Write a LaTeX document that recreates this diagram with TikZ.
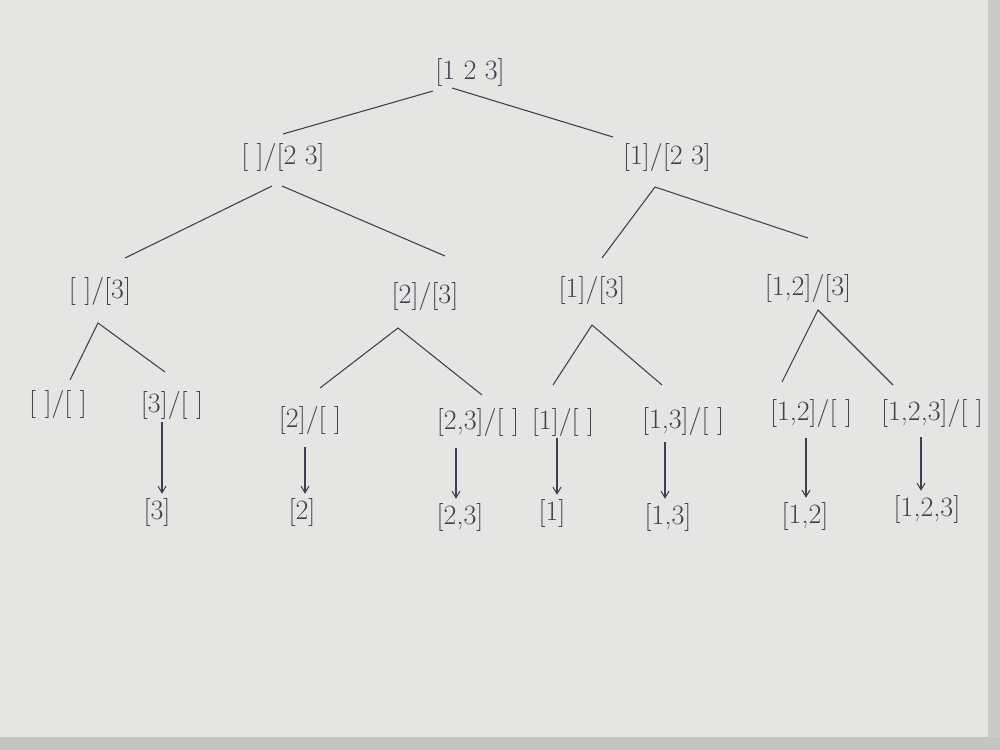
\documentclass[tikz,border=0pt]{standalone}
\usetikzlibrary{arrows.meta}
\definecolor{paper}{RGB}{229,229,227}
\definecolor{ink}{RGB}{62,64,80}
\definecolor{edge}{RGB}{196,196,194}
\begin{document}
\begin{tikzpicture}[x=0.75pt,y=-0.75pt,
  lbl/.style={text=ink,font=\fontsize{21}{24}\selectfont,inner sep=1pt},
  branch/.style={draw=ink,line width=0.8pt},
  down/.style={draw=ink,line width=0.8pt,shorten >=2pt,-{Straight Barb[length=5pt,width=6pt]}}]
\useasboundingbox (0,0) rectangle (1000,750);
\fill[paper] (0,0) rectangle (1000,750);
\fill[edge] (0,737) rectangle (1000,750);
\fill[edge!90] (988,0) rectangle (1000,737);
% level 0
\node[lbl] (r) at (470,72) {[1 2 3]};
% level 1
\node[lbl] (a) at (283,157) {[ ]/[2 3]};
\node[lbl] (b) at (667,157) {[1]/[2 3]};
% level 2
\node[lbl] (aa) at (100,291) {[ ]/[3]};
\node[lbl] (ab) at (425,296) {[2]/[3]};
\node[lbl] (ba) at (592,290) {[1]/[3]};
\node[lbl] (bb) at (808,288) {[1,2]/[3]};
% level 3
\node[lbl] (aaa) at (58,404) {[ ]/[ ]};
\node[lbl] (aab) at (172,405) {[3]/[ ]};
\node[lbl] (aba) at (310,420) {[2]/[ ]};
\node[lbl] (abb) at (478,422) {[2,3]/[ ]};
\node[lbl] (baa) at (563,422) {[1]/[ ]};
\node[lbl] (bab) at (683,421) {[1,3]/[ ]};
\node[lbl] (bba) at (811,413) {[1,2]/[ ]};
\node[lbl] (bbb) at (932,413) {[1,2,3]/[ ]};
% leaves
\node[lbl] (l1) at (157,512) {[3]};
\node[lbl] (l2) at (302,512) {[2]};
\node[lbl] (l3) at (460,517) {[2,3]};
\node[lbl] (l4) at (552,513) {[1]};
\node[lbl] (l5) at (668,517) {[1,3]};
\node[lbl] (l6) at (805,516) {[1,2]};
\node[lbl] (l7) at (927,509) {[1,2,3]};
% connector points
\coordinate (pa1) at (433,91);
\coordinate (pa2) at (452,88);
\coordinate (ca1) at (283,134);
\coordinate (cb1) at (613,137);
\coordinate (ap1) at (272,186);
\coordinate (ap2) at (282,186);
\coordinate (ca2) at (125,258);
\coordinate (cb2) at (445,256);
\coordinate (bp) at (655,187);
\coordinate (cc2) at (602,258);
\coordinate (cd2) at (808,238);
\coordinate (x1) at (98,323);
\coordinate (x2) at (398,328);
\coordinate (x3) at (592,325);
\coordinate (x4) at (818,310);
% arrow start points
\coordinate (s1) at (162,422);
\coordinate (s2) at (305,447);
\coordinate (s3) at (456,448);
\coordinate (s4) at (557,438);
\coordinate (s5) at (665,442);
\coordinate (s6) at (806,438);
\coordinate (s7) at (921,437);
% edges level 0-1
\draw[branch] (pa1) -- (ca1);
\draw[branch] (pa2) -- (cb1);
% level 1-2
\draw[branch] (ap1) -- (ca2);
\draw[branch] (ap2) -- (cb2);
\draw[branch] (cc2) -- (bp) -- (cd2);
% level 2-3
\draw[branch] (70,380) -- (x1) -- (165,372);
\draw[branch] (320,388) -- (x2) -- (482,395);
\draw[branch] (553,385) -- (x3) -- (662,385);
\draw[branch] (782,382) -- (x4) -- (893,385);
% arrows level 3 - leaves
\draw[down] (s1) -- (s1 |- l1.north);
\draw[down] (s2) -- (s2 |- l2.north);
\draw[down] (s3) -- (s3 |- l3.north);
\draw[down] (s4) -- (s4 |- l4.north);
\draw[down] (s5) -- (s5 |- l5.north);
\draw[down] (s6) -- (s6 |- l6.north);
\draw[down] (s7) -- (s7 |- l7.north);
\end{tikzpicture}
\end{document}
